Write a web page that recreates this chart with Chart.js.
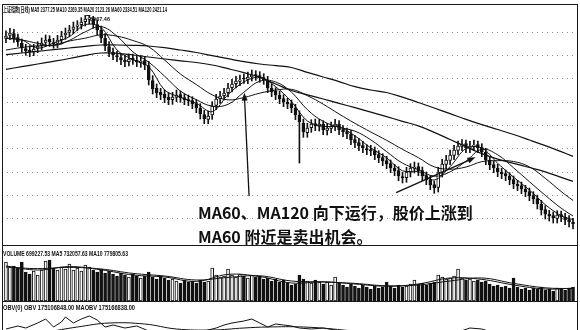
<!DOCTYPE html>
<html lang="zh-CN">
<head>
<meta charset="utf-8">
<title>上证指数(日线)</title>
<script src="https://cdn.jsdelivr.net/npm/chart.js@4.4.1/dist/chart.umd.min.js"></script>
<style>
  html, body { margin:0; padding:0; background:#fff; overflow:hidden; }
  #board { position:relative; width:580px; height:330px; overflow:hidden; background:#fff; }
  #board canvas { position:absolute; left:0; }
  .rule { position:absolute; background:#1a1a1a; }
  .hdr { position:absolute; left:3px; font-family:"Liberation Sans","Noto Sans CJK SC",sans-serif; font-weight:bold;
         font-size:7px; line-height:7px; color:#111; white-space:nowrap; transform-origin:0 50%; }
  .note { position:absolute; left:198px; font-family:"Noto Sans CJK SC",sans-serif; font-weight:bold;
          font-size:16px; line-height:18px; color:#111; white-space:nowrap; }
  #peak { position:absolute; font-family:"Liberation Sans",sans-serif; font-weight:bold; font-size:6px;
          line-height:6px; color:#111; white-space:nowrap; transform-origin:0 50%; }
</style>
</head>
<body>
<div id="board">
  <canvas id="price" width="580" height="246" style="top:0"></canvas>
  <canvas id="vol" width="580" height="56" style="top:246px"></canvas>
  <canvas id="obv" width="580" height="60" style="top:302px"></canvas>

  <div class="rule" style="left:2px;top:4px;width:576px;height:1px"></div>
  <div class="rule" style="left:2px;top:4px;width:1px;height:326px"></div>
  <div class="rule" style="left:577px;top:4px;width:1px;height:326px"></div>
  <div class="rule" style="left:2px;top:245px;width:576px;height:1px"></div>
  <div class="rule" style="left:2px;top:301px;width:576px;height:1px"></div>

  <div class="hdr" id="hdrMain" style="top:6px"></div>
  <div class="hdr" id="hdrVol" style="top:250px"></div>
  <div class="hdr" id="hdrObv" style="top:304px"></div>

  <div class="note" style="top:203px">MA60、MA120 向下运行，股价上涨到</div>
  <div class="note" style="top:227px">MA60 附近是卖出机会。</div>
  <div id="peak"></div>
</div>

<script>
// ---- daily index candles ----
const opens = [
  2930,2948,2958,2935,2900,2868,2860,2850,2870,2888,
  2906,2924,2905,2900,2922,2950,2966,2984,3002,3012,
  3030,3044,3048,3012,2978,2930,2880,2846,2826,2814,
  2798,2790,2810,2798,2784,2796,2766,2676,2630,2606,
  2594,2576,2562,2576,2592,2575,2562,2556,2538,2510,
  2472,2444,2470,2528,2566,2586,2604,2634,2658,2672,
  2690,2684,2700,2712,2706,2694,2676,2630,2612,2588,
  2568,2546,2538,2510,2468,2420,2364,2394,2418,2402,
  2414,2378,2390,2402,2414,2382,2370,2354,2322,2304,
  2286,2268,2262,2256,2232,2214,2196,2178,2150,2136,
  2100,2094,2126,2150,2160,2136,2106,2082,2052,2036,
  2126,2174,2198,2228,2258,2282,2298,2270,2282,2292,
  2274,2246,2198,2172,2150,2126,2118,2102,2082,2054,
  2046,2024,2010,1986,1968,1934,1902,1874,1866,1850,
  1872,1856,1842,1826
];
const highs = [
  2975,2990,2984,2956,2926,2894,2886,2894,2910,2932,
  2950,2946,2930,2948,2972,2992,3008,3028,3036,3054,
  3067.46,3064,3062,3040,3004,2958,2910,2872,2852,2840,
  2826,2836,2836,2822,2826,2820,2792,2706,2656,2630,
  2620,2604,2606,2620,2614,2598,2590,2580,2562,2538,
  2498,2494,2550,2594,2612,2630,2660,2684,2702,2710,
  2716,2728,2740,2736,2730,2718,2702,2654,2634,2612,
  2592,2570,2560,2534,2494,2446,2420,2442,2446,2444,
  2436,2420,2428,2444,2436,2406,2392,2378,2346,2328,
  2312,2292,2288,2278,2256,2238,2222,2200,2174,2160,
  2126,2156,2178,2188,2182,2158,2128,2104,2074,2156,
  2204,2228,2260,2288,2314,2322,2320,2312,2320,2314,
  2298,2270,2222,2194,2174,2150,2140,2124,2104,2078,
  2068,2048,2032,2010,1990,1958,1926,1898,1888,1896,
  1894,1880,1866,1850
];
const lows = [
  2904,2922,2906,2882,2846,2828,2820,2826,2844,2862,
  2880,2882,2870,2874,2896,2924,2940,2958,2976,2986,
  3004,3016,2990,2952,2904,2856,2820,2802,2790,2772,
  2760,2764,2774,2760,2756,2742,2650,2596,2574,2562,
  2544,2532,2534,2550,2546,2532,2526,2508,2484,2446,
  2418,2418,2444,2502,2540,2560,2578,2608,2632,2646,
  2660,2658,2674,2678,2666,2654,2604,2580,2562,2538,
  2520,2508,2484,2442,2182,2336,2336,2366,2376,2374,
  2352,2350,2364,2376,2352,2340,2328,2292,2274,2256,
  2244,2232,2226,2202,2184,2166,2148,2124,2106,2076,
  2062,2066,2098,2122,2106,2076,2052,2022,2000,2008,
  2098,2146,2172,2202,2232,2256,2244,2244,2256,2244,
  2220,2172,2142,2124,2100,2088,2076,2052,2028,2016,
  1998,1980,1956,1938,1906,1870,1846,1834,1822,1822,
  1830,1812,1798,1786
];
const closes = [
  2944,2962,2932,2908,2872,2854,2848,2866,2884,2902,
  2920,2908,2896,2920,2944,2962,2980,2998,3010,3028,
  3046,3052,3016,2980,2932,2884,2848,2830,2818,2800,
  2788,2806,2800,2788,2794,2770,2680,2626,2602,2590,
  2572,2560,2578,2590,2572,2560,2554,2536,2512,2476,
  2446,2464,2524,2566,2584,2602,2632,2656,2674,2680,
  2686,2698,2710,2704,2692,2680,2632,2608,2590,2566,
  2548,2536,2512,2470,2428,2368,2392,2416,2404,2416,
  2380,2392,2404,2416,2380,2368,2356,2320,2302,2284,
  2272,2260,2254,2230,2212,2194,2176,2152,2134,2104,
  2092,2128,2152,2158,2134,2104,2080,2050,2032,2128,
  2176,2200,2230,2260,2284,2296,2272,2284,2290,2272,
  2248,2200,2170,2152,2128,2116,2104,2080,2056,2044,
  2026,2008,1984,1966,1936,1900,1876,1864,1852,1870,
  1858,1840,1828,1816
];
const volumes = [
  1950000,1700000,1750000,1650000,1950000,1450000,1350000,1500000,1300000,1550000,
  2000000,2050000,1650000,1550000,1700000,1600000,1850000,1550000,1650000,1500000,
  1800000,1700000,1550000,1450000,1600000,1400000,1500000,1350000,1250000,1400000,
  1300000,1200000,1350000,1250000,1150000,1250000,1450000,1200000,1100000,1250000,
  1150000,1050000,1100000,1000000,900000,1050000,950000,1000000,900000,1050000,
  950000,1000000,1650000,1300000,1200000,1250000,1600000,1300000,1200000,1350000,
  1250000,1150000,1300000,1200000,1250000,1100000,1150000,1000000,1100000,950000,
  1050000,900000,800000,850000,1300000,1100000,1000000,900000,1050000,950000,
  850000,950000,800000,1200000,900000,800000,700000,850000,750000,650000,
  800000,700000,600000,750000,650000,700000,950000,750000,650000,800000,
  700000,750000,850000,1050000,850000,900000,800000,900000,950000,1300000,
  1200000,1100000,1150000,1250000,1600000,1150000,1050000,1100000,1000000,1050000,
  950000,1000000,850000,750000,800000,700000,750000,650000,1150000,700000,
  600000,650000,550000,650000,600000,700000,550000,600000,500000,650000,
  600000,550000,650000,699227
];

// ---- moving averages, sampled every fourth session ----
const maDays = [0,4,8,12,16,20,24,28,32,36,40,44,48,52,56,60,64,68,72,76,80,84,88,92,96,100,104,108,112,116,120,124,128,132,136,140,143];
const ma5   = [2932,2920,2872,2902,2940,3012,2995,2860,2802,2760,2620,2576,2540,2490,2592,2668,2696,2640,2550,2434,2402,2398,2345,2272,2213,2135,2130,2080,2160,2268,2272,2180,2097,2020,1932,1866,1842];
const ma10  = [2930,2920,2900,2886,2918,2969,3000,2943,2849,2787,2703,2614,2562,2523,2534,2607,2673,2668,2607,2502,2432,2397,2373,2321,2250,2181,2142,2103,2129,2193,2264,2231,2153,2070,1988,1911,1864];
const ma20  = [2860,2875,2885,2890,2914,2931,2951,2943,2917,2879,2800,2716,2653,2591,2561,2575,2601,2619,2624,2586,2535,2476,2420,2368,2318,2264,2214,2159,2145,2158,2190,2196,2191,2159,2090,2011,1957];
const ma60  = [2744,2760,2776,2792,2809,2828,2842,2840,2830,2818,2806,2795,2785,2770,2748,2724,2696,2656,2617,2591,2566,2540,2514,2487,2460,2432,2405,2366,2323,2280,2238,2205,2180,2155,2129,2096,2072];
const ma120 = [2832,2842,2852,2862,2872,2882,2890,2890,2888,2884,2874,2860,2845,2826,2808,2790,2776,2766,2755,2726,2698,2670,2640,2620,2605,2577,2545,2512,2478,2444,2412,2383,2353,2320,2286,2250,2222];

// ---- volume averages ----
const volMaDays = [0,8,16,24,32,40,48,56,64,72,80,88,96,104,112,120,128,136,143];
const volMa5  = [1750000,1550000,1720000,1560000,1300000,1200000,980000,1330000,1220000,900000,960000,850000,740000,850000,1150000,1080000,800000,600000,640000];
const volMa10 = [1700000,1620000,1680000,1600000,1380000,1250000,1050000,1180000,1260000,1000000,950000,880000,760000,800000,1000000,1150000,880000,660000,620000];

// ---- OBV (millions) ----
const obvDays   = [0,3,5,8,10,12,14,15,17,19,21,23,25,27,30,33,36,40,44,48,51,53,55,57,60,62,64,66,68,70,72,74,77,80,83,88,94,100,107,110,114,117,120,124,129,135,140,143];
const obvValues = [183,186,184,189,193,185,190,195,189,193,196,192,185,187,184,186,181,178,176,179,182,184,187,189,191,193,189,185,188,187,186,184,183,184,182,176,172,169,167,175,180,184,183,178,172,168,166,165];
const maobvDays   = [0,10,18,26,35,43,52,60,66,75,85,95,105,115,125,135,143];
const maobvValues = [176,180,185,189,188,183,182,184,185,185,182,177,172,174,177,173,170];

// ---- price grid levels and panel captions ----
const gridLevels = [2970,2830,2690,2550,2410,2270,2130,1990,1850];
const mainCaption = "上证指数(日线) MA5 2377.25  MA10 2269.35  MA20 2123.26  MA60 2334.51  MA120 2421.14";
const volCaption  = "VOLUME 699227.53  MA5 732057.63  MA10 779805.63";
const obvCaption  = "OBV(0) OBV 175106848.00  MAOBV 175166838.00";

// ---------------------------------------------------------------
const INK = '#111';
const days = closes.map((_, i) => i);
const pts = (xs, ys) => xs.map((x, k) => ({ x, y: ys[k] }));
const isUp = i => closes[i] >= opens[i];

const xScale = { type: 'linear', min: -1, max: 144, offset: false, display: false };
const common = {
  responsive: false, animation: false, devicePixelRatio: 1, events: [],
  plugins: { legend: { display: false }, tooltip: { enabled: false } }
};
const lineSet = (data, width, tension) => ({
  type: 'line', data, borderColor: INK, borderWidth: width, pointRadius: 0,
  fill: false, tension, order: 1
});

// arrows pointing at the rebounds, in session / index-point terms
const noteArrows = [
  { tail: [61.3, 1984], head: [60.1, 2604] },
  { tail: [98.4, 2004], head: [118.4, 2216] }
];

function drawArrow(ctx, x1, y1, x2, y2) {
  const ang = Math.atan2(y2 - y1, x2 - x1), len = 8, half = 3;
  ctx.beginPath(); ctx.moveTo(x1, y1);
  ctx.lineTo(x2 - Math.cos(ang) * len * 0.7, y2 - Math.sin(ang) * len * 0.7); ctx.stroke();
  ctx.beginPath(); ctx.moveTo(x2, y2);
  ctx.lineTo(x2 - Math.cos(ang) * len - Math.sin(ang) * half, y2 - Math.sin(ang) * len + Math.cos(ang) * half);
  ctx.lineTo(x2 - Math.cos(ang) * len + Math.sin(ang) * half, y2 - Math.sin(ang) * len - Math.cos(ang) * half);
  ctx.closePath(); ctx.fill();
}

const priceDecor = {
  id: 'priceDecor',
  beforeDatasetsDraw(chart) {
    const { ctx, chartArea: a, scales: { y } } = chart;
    ctx.save();
    ctx.strokeStyle = '#8c8c8c'; ctx.lineWidth = 1; ctx.setLineDash([1, 4]);
    gridLevels.forEach(v => {
      const py = Math.round(y.getPixelForValue(v)) + 0.5;
      ctx.beginPath(); ctx.moveTo(a.left, py); ctx.lineTo(a.right, py); ctx.stroke();
    });
    ctx.restore();
  },
  afterDatasetsDraw(chart) {
    const { ctx, scales: { x, y } } = chart;
    ctx.save();
    ctx.strokeStyle = INK; ctx.fillStyle = INK; ctx.lineWidth = 1.3;
    noteArrows.forEach(a => drawArrow(ctx,
      x.getPixelForValue(a.tail[0]), y.getPixelForValue(a.tail[1]),
      x.getPixelForValue(a.head[0]), y.getPixelForValue(a.head[1])));
    // highest-high marker with its value label
    let top = 0;
    highs.forEach((h, i) => { if (h > highs[top]) top = i; });
    const px = x.getPixelForValue(top), py = y.getPixelForValue(highs[top]);
    ctx.lineWidth = 1;
    ctx.beginPath(); ctx.moveTo(px + 1, Math.round(py) + 0.5); ctx.lineTo(px + 5, Math.round(py) + 0.5); ctx.stroke();
    ctx.restore();
    const lab = document.getElementById('peak');
    lab.textContent = highs[top].toFixed(2);
    lab.style.left = (px + 5) + 'px';
    lab.style.top = (py + 1) + 'px';
  }
};

new Chart(document.getElementById('price'), {
  type: 'bar',
  data: {
    datasets: [
      { type: 'bar', data: days.map(i => ({ x: i, y: [lows[i], highs[i]] })),
        backgroundColor: INK, borderWidth: 0, barThickness: 1, grouped: false, order: 3 },
      { type: 'bar', data: days.map(i => ({ x: i, y: [opens[i], closes[i]] })),
        backgroundColor: c => isUp(c.dataIndex) ? '#fff' : INK,
        borderColor: INK, borderWidth: 1, borderSkipped: false, barThickness: 3, grouped: false, order: 2 },
      lineSet(pts(maDays, ma5), 1, 0.35),
      lineSet(pts(maDays, ma10), 1, 0.4),
      lineSet(pts(maDays, ma20), 1, 0.4),
      lineSet(pts(maDays, ma60), 1.2, 0.4),
      lineSet(pts(maDays, ma120), 1.2, 0.4)
    ]
  },
  options: {
    ...common,
    layout: { padding: { left: 2, right: 3, top: 4, bottom: 1 } },
    scales: { x: xScale, y: { type: 'linear', min: 1690, max: 3136, display: false } }
  },
  plugins: [priceDecor]
});

new Chart(document.getElementById('vol'), {
  type: 'bar',
  data: {
    datasets: [
      { type: 'bar', data: days.map(i => ({ x: i, y: volumes[i] })),
        backgroundColor: c => isUp(c.dataIndex) ? '#fff' : INK,
        borderColor: INK, borderWidth: 1, borderSkipped: false, barThickness: 3, grouped: false, order: 2 },
      lineSet(pts(volMaDays, volMa5), 1, 0.4),
      lineSet(pts(volMaDays, volMa10), 1, 0.4)
    ]
  },
  options: {
    ...common,
    layout: { padding: { left: 2, right: 3, top: 1, bottom: 1 } },
    scales: { x: xScale, y: { type: 'linear', min: 0, max: 2700000, display: false } }
  }
});

new Chart(document.getElementById('obv'), {
  type: 'line',
  data: {
    datasets: [
      lineSet(pts(obvDays, obvValues), 1, 0),
      lineSet(pts(maobvDays, maobvValues), 1, 0.4)
    ]
  },
  options: {
    ...common,
    layout: { padding: { left: 2, right: 3, top: 10, bottom: 0 } },
    scales: { x: xScale, y: { type: 'linear', min: 150, max: 200, display: false } }
  }
});

// captions squeezed into the narrow header strip of each panel
function caption(id, text, width) {
  const el = document.getElementById(id);
  el.textContent = text;
  const w = el.getBoundingClientRect().width;
  el.style.transform = 'scaleX(' + (width / w) + ')';
}
caption('hdrMain', mainCaption, 164);
caption('hdrVol', volCaption, 125);
caption('hdrObv', obvCaption, 132);
const pk = document.getElementById('peak');
pk.style.transform = 'scaleX(' + (20 / pk.getBoundingClientRect().width) + ')';
</script>
</body>
</html>
